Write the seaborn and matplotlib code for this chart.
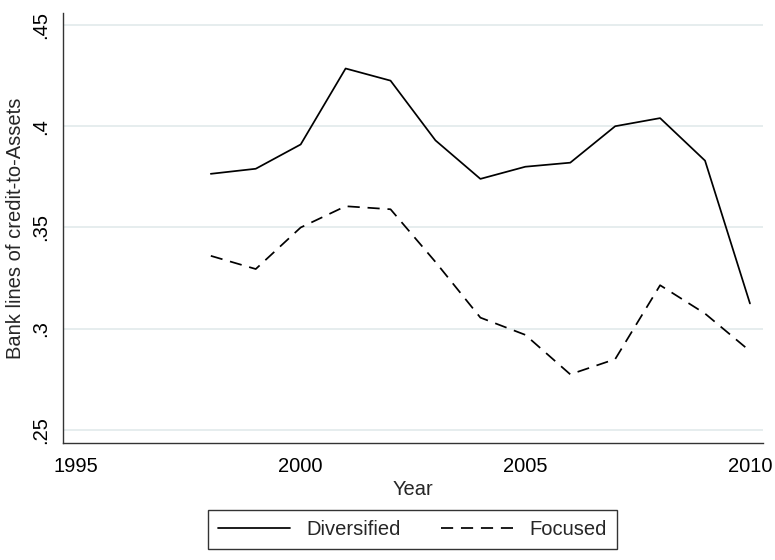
import pandas as pd
import matplotlib.pyplot as plt
import seaborn as sns

# data
years = [1998, 1999, 2000, 2001, 2002, 2003, 2004, 2005, 2006, 2007, 2008, 2009, 2010]
diversified = [0.3765, 0.379, 0.391, 0.4285, 0.4225, 0.393, 0.374, 0.380, 0.382, 0.400, 0.404, 0.383, 0.3125]
focused = [0.336, 0.3295, 0.350, 0.3605, 0.359, 0.333, 0.3055, 0.297, 0.2775, 0.285, 0.3215, 0.3075, 0.289]

df = pd.DataFrame({
    "Year": years * 2,
    "value": diversified + focused,
    "group": ["Diversified"] * len(years) + ["Focused"] * len(years),
})

# plot
sns.set_theme(style="white")
plt.rcParams["font.family"] = ["Liberation Sans", "DejaVu Sans"]

fig = plt.figure(figsize=(7.75, 5.6), dpi=100)
ax = fig.add_axes([0.0813, 0.2089, 0.9032, 0.7679])

ax.yaxis.grid(True, color="#e4eced", linewidth=1.3)
ax.set_axisbelow(True)

sns.lineplot(data=df, x="Year", y="value", style="group",
             dashes={"Diversified": "", "Focused": (7, 4.5)},
             color="black", linewidth=1.25, ax=ax)

ax.set_xlim(1994.71, 2010.29)
ax.set_ylim(0.2436, 0.4559)
ax.set_xticks([1995, 2000, 2005, 2010])
ax.set_yticks([0.25, 0.3, 0.35, 0.4, 0.45])
ax.set_yticklabels([".25", ".3", ".35", ".4", ".45"], rotation=90, va="center")

sns.despine(ax=ax)
for s in ["left", "bottom"]:
    ax.spines[s].set_color("#333333")
    ax.spines[s].set_linewidth(1.0)
ax.tick_params(axis="both", direction="out", length=6, width=1.0,
               color="#333333", labelsize=14.5, labelcolor="black", pad=4)
ax.tick_params(axis="y", length=5)

ax.set_xlabel("Year", fontsize=14.5, labelpad=3)
ax.set_ylabel("Bank lines of credit-to-Assets", fontsize=14.5, labelpad=5)

handles, labels = ax.get_legend_handles_labels()
ax.get_legend().remove()
leg = fig.legend(handles, labels, loc="center", bbox_to_anchor=(0.532, 0.055),
                 ncol=2, frameon=True, fancybox=False, fontsize=14.5,
                 handlelength=3.6, columnspacing=2.0, handletextpad=0.8,
                 borderpad=0.5)
leg.get_frame().set_edgecolor("black")
leg.get_frame().set_linewidth(1.0)

plt.savefig("out.png", dpi=100)
